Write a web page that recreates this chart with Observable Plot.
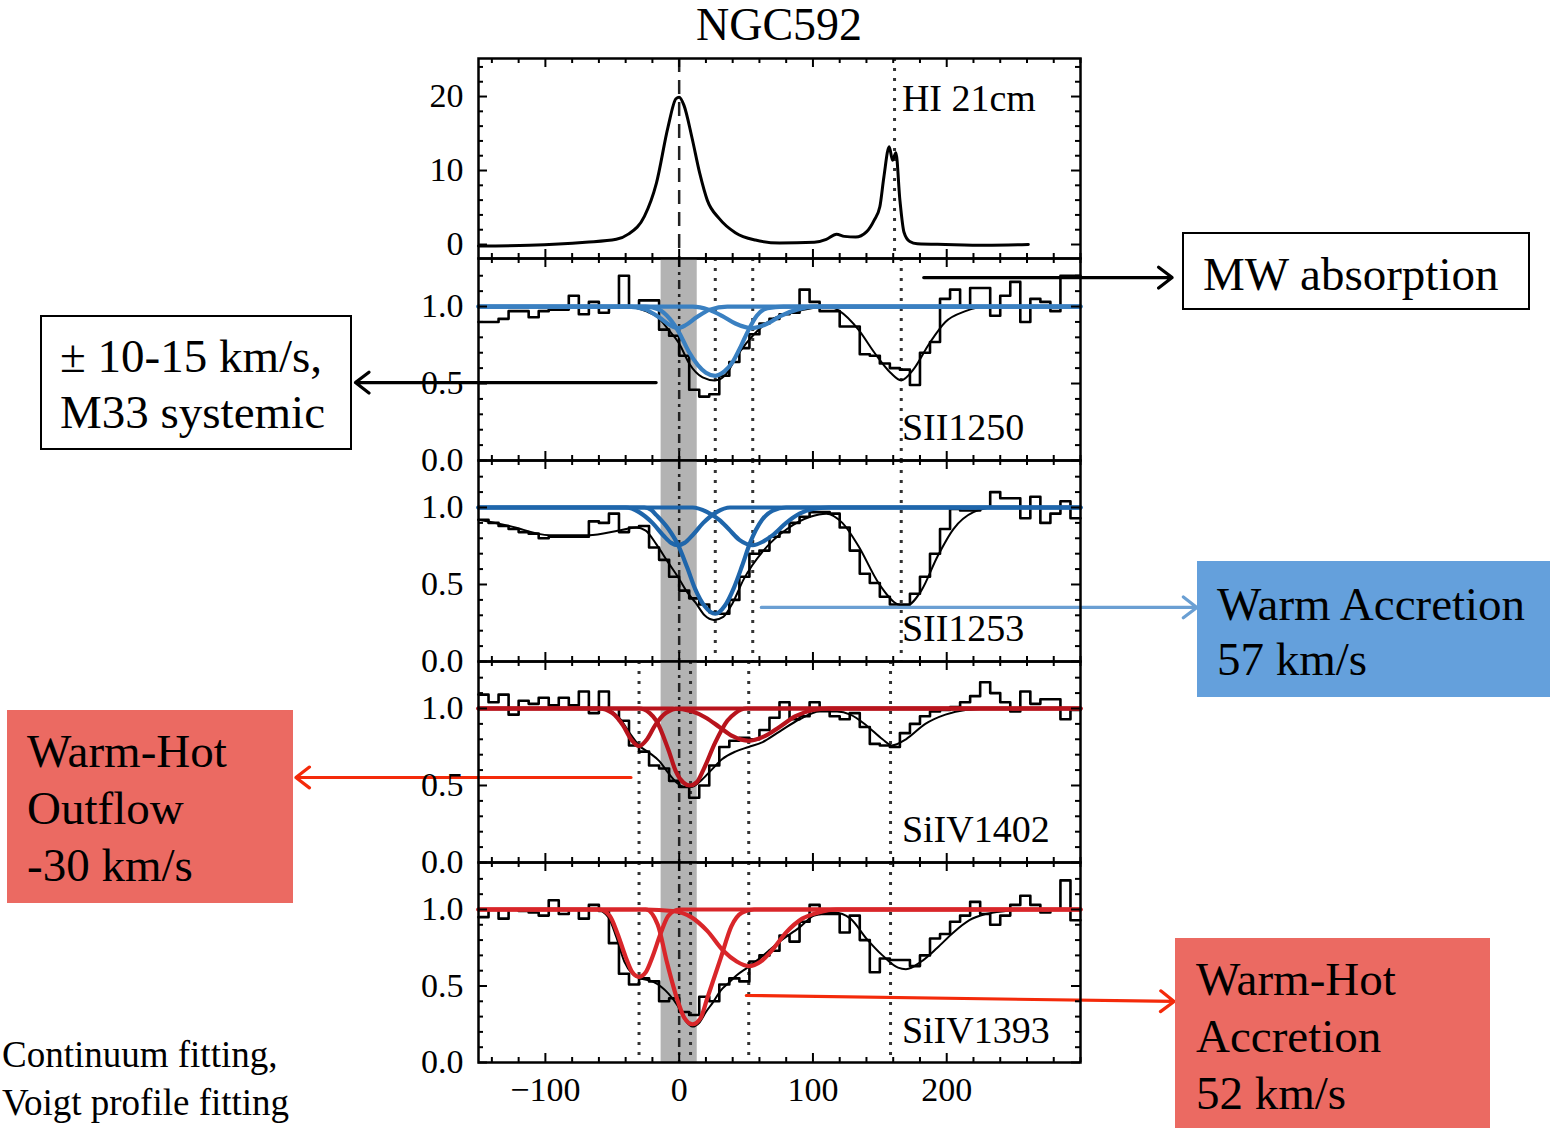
<!DOCTYPE html>
<html><head><meta charset="utf-8">
<script src="https://cdn.jsdelivr.net/npm/d3@7"></script>
<script src="https://cdn.jsdelivr.net/npm/@observablehq/plot@0.6"></script>
<style>
body{margin:0;background:#fff;}
#fig{position:relative;width:1550px;height:1128px;overflow:hidden;font-family:"Liberation Serif",serif;background:#fff;}
.box{position:absolute;box-sizing:border-box;}
.txt{position:absolute;white-space:nowrap;color:#000;font-family:"Liberation Serif",serif;}
</style></head><body><div id="fig"></div>
<script>
// ---------------- DATA ----------------
const titleText = "NGC592";
const panelLabels = ["HI 21cm", "SII1250", "SII1253", "SiIV1402", "SiIV1393"];
const xTickLabels = [-100, 0, 100, 200];

// HI 21cm emission profile
const hiVelocity = [-150,-112,-70,-47,-38,-26,-17,-8.3,-2.4,0,3.6,9.5,15.4,21,30,42,57,75,101,110,117.6,123.5,132,140,145.8,150,153,157,159.5,162,165,168,172.4,178,199,229,261];
const hiFlux     = [-0.2,-0.1,0.3,0.7,1.4,3.8,8.3,15.9,19.7,19.9,18.8,14.5,9.6,6.0,3.5,1.6,0.6,0.2,0.3,0.7,1.4,1.1,1.0,1.7,3.3,5.1,9.1,13.2,11.4,12.4,6.0,1.7,0.4,0.1,0,-0.1,0];

// binned normalized flux (bins of 7.5 km/s starting at -150)
const binStart = -150, binWidth = 7.5;
const sii1250Flux = [0.90,0.90,0.92,0.97,0.97,0.93,0.97,0.98,0.98,1.07, 0.95,1.03,0.96,1.00,1.20,1.00,1.04,1.04,0.85,0.81, 0.68,0.46,0.415,0.43,0.55,0.64,0.73,0.82,0.89,0.92, 0.95,0.96,1.11,1.03,0.97,0.97,0.87,0.87,0.69,0.68, 0.63,0.60,0.59,0.49,0.70,0.77,1.05,1.11,1.00,1.12, 1.12,0.94,1.07,1.16,0.90,1.05,1.03,0.97,1.20,1.20];
const sii1253Flux = [0.92,0.90,0.88,0.86,0.84,0.83,0.80,0.81,0.81,0.81, 0.81,0.91,0.90,0.96,0.84,0.87,0.88,0.74,0.66,0.55, 0.46,0.41,0.37,0.32,0.31,0.40,0.55,0.70,0.72,0.81, 0.84,0.90,0.94,0.97,0.97,0.96,0.87,0.72,0.57,0.51, 0.42,0.37,0.37,0.44,0.55,0.70,0.86,0.99,0.98,0.98, 1.00,1.10,1.06,1.06,0.93,1.07,0.90,0.96,1.04,0.93];
const siv1402Flux = [1.09,1.04,1.09,0.96,1.05,1.03,1.07,1.02,1.07,1.02, 1.11,0.97,1.11,1.00,0.92,0.76,0.72,0.63,0.61,0.53, 0.49,0.42,0.50,0.63,0.75,0.79,0.81,0.80,0.86,0.94, 1.04,0.93,0.95,1.04,0.99,0.95,0.93,0.97,0.88,0.77, 0.76,0.75,0.84,0.90,0.95,0.98,0.99,1.01,1.04,1.08, 1.17,1.10,1.04,0.98,1.11,1.03,1.06,1.06,0.93,0.99];
const siv1393Flux = [0.95,1.00,0.94,1.00,0.99,0.98,0.96,1.06,0.97,1.00, 0.94,1.03,0.99,0.78,0.58,0.51,0.55,0.53,0.40,0.42, 0.33,0.31,0.43,0.40,0.51,0.55,0.53,0.66,0.70,0.73, 0.83,0.79,0.92,1.03,0.97,0.97,0.85,0.96,0.80,0.59, 0.68,0.67,0.67,0.63,0.70,0.81,0.84,0.92,0.96,1.05, 0.97,0.90,0.96,1.03,1.09,1.03,0.98,1.00,1.19,0.93];

// total fits [velocity, flux]
const sii1250Fit = [[-150,1],[-40,1],[-25,0.97],[-16,0.93],[-8,0.85],[0,0.76],[7.5,0.63],[17.5,0.54],[26.7,0.52],[34,0.55],[44,0.69],[56,0.82],[68,0.91],[84,0.96],[100,0.99],[112,1],[120,0.97],[134,0.85],[146,0.70],[158,0.57],[166,0.52],[175,0.59],[187,0.76],[199,0.90],[214,0.97],[229,1],[300,1]];
const sii1253Fit = [[-150,0.92],[-127,0.88],[-97,0.82],[-67.5,0.82],[-45,0.85],[-32,0.87],[-25,0.85],[-17,0.76],[-8,0.64],[-1,0.55],[6,0.45],[12.4,0.38],[19,0.30],[26,0.27],[33,0.29],[40,0.38],[48,0.53],[63,0.72],[80.6,0.86],[98,0.94],[110,0.96],[122,0.90],[134,0.75],[149,0.51],[163.6,0.37],[169.5,0.36],[181,0.46],[193,0.68],[205,0.86],[220,0.97],[235,1],[300,1]];
const siv1402Fit = [[-150,1],[-62,1],[-53,0.99],[-44,0.93],[-37,0.84],[-30,0.76],[-22,0.71],[-15,0.66],[-8,0.58],[-2,0.52],[4,0.49],[9,0.49],[16,0.53],[24,0.60],[32,0.67],[42,0.72],[52,0.75],[62,0.78],[75,0.85],[90,0.93],[105,0.98],[118,0.98],[128,0.96],[140,0.89],[152,0.80],[159,0.76],[169.5,0.80],[184,0.90],[199,0.96],[214,0.99],[235,1],[300,1]];
const siv1393Fit = [[-150,1],[-62,1],[-53,0.95],[-47,0.82],[-41,0.66],[-35,0.58],[-29,0.55],[-20,0.53],[-8,0.45],[-1,0.37],[5,0.27],[10,0.235],[15,0.26],[20,0.33],[25,0.39],[31,0.47],[37,0.52],[43,0.57],[51,0.62],[63,0.70],[75,0.79],[89.5,0.88],[101,0.96],[116,0.98],[128,0.94],[140,0.81],[152,0.70],[163.6,0.62],[169.5,0.61],[181,0.66],[193,0.75],[205,0.85],[217,0.93],[229,0.97],[244,0.99],[260,1],[300,1]];

// fitted components [velocity, flux]
const sii1250Comp1 = [[-150,1],[-38,1],[-25,0.98],[-15,0.93],[-7,0.88],[-1,0.86],[5,0.88],[13,0.93],[23,0.98],[36,1],[300,1]];
const sii1250Comp2 = [[-150,1],[-25,1],[-15,0.98],[-7,0.92],[0,0.83],[7,0.71],[14,0.62],[20,0.57],[27,0.55],[34,0.58],[40,0.64],[46,0.74],[52,0.85],[58,0.94],[66,0.99],[78,1],[300,1]];
const sii1250Comp3 = [[-150,1],[10,1],[22,0.98],[32,0.94],[42,0.89],[54,0.86],[66,0.89],[76,0.94],[88,0.98],[100,1],[300,1]];
const sii1253Comp1 = [[-150,1],[-40,1],[-30,0.97],[-20,0.90],[-12,0.82],[-6,0.77],[-1,0.755],[4,0.77],[10,0.82],[18,0.90],[28,0.97],[38,1],[300,1]];
const sii1253Comp2 = [[-150,1],[-26,1],[-21,0.985],[-17,0.95],[-8,0.86],[-1,0.76],[6,0.61],[12,0.47],[19,0.36],[27,0.31],[34,0.36],[41,0.48],[47,0.62],[53,0.77],[62,0.92],[70,0.98],[80,1],[300,1]];
const sii1253Comp3 = [[-150,1],[10,1],[21,0.97],[30,0.92],[37,0.86],[45,0.79],[55,0.755],[63,0.78],[70,0.82],[80,0.90],[90,0.96],[100,0.99],[112,1],[300,1]];
const siv1402CompA = [[-150,1],[-60,1],[-50,0.97],[-42,0.89],[-36,0.80],[-30,0.755],[-24,0.80],[-18,0.89],[-10,0.97],[0,1],[300,1]];
const siv1402CompB = [[-150,1],[-30,1],[-22,0.97],[-17,0.92],[-8,0.73],[-2.4,0.59],[3,0.52],[8,0.50],[13,0.52],[18,0.60],[27,0.78],[36,0.92],[42,0.97],[50,1],[300,1]];
const siv1402CompC = [[-150,1],[-5,1],[10,0.98],[20,0.94],[30,0.88],[40,0.82],[52,0.79],[64,0.82],[75,0.88],[87,0.95],[100,0.99],[112,1],[300,1]];
const siv1393CompA = [[-150,1],[-60,1],[-52,0.96],[-46,0.84],[-40,0.69],[-35,0.59],[-30,0.56],[-25,0.59],[-20,0.69],[-14,0.84],[-8,0.96],[0,1],[300,1]];
const siv1393CompB = [[-150,1],[-25,1],[-16,0.90],[-9,0.65],[-1,0.40],[4,0.29],[10,0.25],[16,0.29],[21,0.42],[31,0.68],[39,0.89],[47,0.98],[56,1],[300,1]];
const siv1393CompC = [[-150,1],[-25,1],[-5,0.99],[9,0.95],[21,0.86],[33,0.73],[43,0.66],[52,0.63],[61,0.66],[70,0.74],[80,0.85],[92,0.94],[104,0.98],[118,1],[300,1]];

// component / reference velocities (km/s)
const hiDotted = [161];
const siiDotted = [27, 55, 166];
const sivDotted = [-30, 8.5, 52, 158];
const systemicBand = [-13.5, 13.5];

// ---------------- LAYOUT / STYLE ----------------
const fig = document.getElementById("fig");
const XDOM = [-150, 300];
const XMAJ = [-100, 0, 100, 200];
const XMIN = d3.range(-140, 301, 20).filter(v => !XMAJ.includes(v));
const ABS_YMAJ = [0, 0.5, 1.0];
const ABS_YMIN = [0.1,0.2,0.3,0.4,0.6,0.7,0.8,0.9,1.1,1.2];
const PLOT_W = 602;

const toHist = arr => {
  const pts = arr.map((f, i) => ({v: binStart + i * binWidth, f}));
  pts.push({v: binStart + arr.length * binWidth, f: arr[arr.length - 1]});
  return pts;
};
const toPts = arr => arr.map(([v, f]) => ({v, f}));
const minus = d => d < 0 ? "\u2212" + Math.abs(d) : String(d);

function tickMarks(yMaj, yMin, plotH) {
  const s = {stroke: "black", strokeWidth: 2};
  return [
    Plot.tickX(XMAJ, {x: d => d, insetTop: plotH - 9, ...s}),
    Plot.tickX(XMAJ, {x: d => d, insetBottom: plotH - 9, ...s}),
    Plot.tickX(XMIN, {x: d => d, insetTop: plotH - 5, ...s}),
    Plot.tickX(XMIN, {x: d => d, insetBottom: plotH - 5, ...s}),
    Plot.tickY(yMaj, {y: d => d, insetRight: PLOT_W - 9, ...s}),
    Plot.tickY(yMaj, {y: d => d, insetLeft: PLOT_W - 9, ...s}),
    Plot.tickY(yMin, {y: d => d, insetRight: PLOT_W - 5, ...s}),
    Plot.tickY(yMin, {y: d => d, insetLeft: PLOT_W - 5, ...s})
  ];
}

function makePanel({top, height, marginTop = 0, marginBottom = 0, yDomain, yMaj, yMin, yFormat, marks, label, labelY, xLabels = false}) {
  const plotH = height - marginTop - marginBottom;
  const svg = Plot.plot({
    width: 1550, height, marginLeft: 478, marginRight: 470, marginTop, marginBottom,
    x: {domain: XDOM, label: null, ...(xLabels ? {} : {axis: null})},
    y: {domain: yDomain, label: null},
    style: {background: "transparent", overflow: "visible", fontFamily: "Liberation Serif", fontSize: "34px", color: "black"},
    marks: [
      ...marks,
      Plot.text([label], {x: 166.5, y: labelY, text: d => d, textAnchor: "start", lineAnchor: "middle", fontSize: 38, fill: "black"}),
      ...tickMarks(yMaj, yMin, plotH),
      Plot.frame({stroke: "black", strokeWidth: 2.5}),
      Plot.axisY(yMaj, {anchor: "left", tickSize: 0, tickPadding: 15, tickFormat: yFormat, label: null, fill: "black"}),
      xLabels ? Plot.axisX(xTickLabels, {anchor: "bottom", tickSize: 0, tickPadding: 14, tickFormat: minus, label: null, fill: "black"}) : null
    ]
  });
  svg.style.position = "absolute";
  svg.style.left = "0px";
  svg.style.top = top + "px";
  fig.appendChild(svg);
}

const dashedSys = {stroke: "#222", strokeWidth: 2.5, strokeDasharray: "9,5,3,5"};
const dotted = {stroke: "#333", strokeWidth: 3, strokeDasharray: "3,7"};
const arrowStyle = {headLength: 8, headAngle: 75, strokeWidth: 3.2};

function absMarks(flux, fit, comps, color, dots, yTop, arrows) {
  return [
    Plot.rect([systemicBand], {x1: d => d[0], x2: d => d[1], y1: 0, y2: yTop, fill: "#b3b3b3"}),
    Plot.ruleX(dots, {x: d => d, ...dotted}),
    Plot.ruleX([0], {x: d => d, ...dashedSys}),
    Plot.line(toHist(flux), {x: "v", y: "f", curve: "step-after", stroke: "black", strokeWidth: 2.6}),
    Plot.line(toPts(fit), {x: "v", y: "f", curve: "monotone-x", stroke: "black", strokeWidth: 2}),
    ...comps.map(c => Plot.line(toPts(c), {x: "v", y: "f", curve: "monotone-x", stroke: color, strokeWidth: 4.2})),
    ...arrows.map(a => Plot.arrow([a], {x1: "x1", y1: "y1", x2: "x2", y2: "y2", stroke: a.color, ...arrowStyle}))
  ];
}

// Panel 1: HI 21cm
makePanel({
  top: 0, height: 258, marginTop: 58,
  yDomain: [-1.89, 25.14], yMaj: [0, 10, 20], yMin: [2,4,6,8,12,14,16,18,22,24], yFormat: d => String(d),
  label: panelLabels[0], labelY: 19.7,
  marks: [
    Plot.ruleX(hiDotted, {x: d => d, ...dotted}),
    Plot.ruleX([0], {x: d => d, stroke: "#222", strokeWidth: 2.5, strokeDasharray: "14,8"}),
    Plot.line(hiVelocity.map((v, i) => ({v, f: hiFlux[i]})), {x: "v", y: "f", curve: "monotone-x", stroke: "black", strokeWidth: 3})
  ]
});

// Panel 2: SII1250
makePanel({
  top: 258, height: 202, yDomain: [0, 1.312], yMaj: ABS_YMAJ, yMin: ABS_YMIN, yFormat: d3.format(".1f"),
  label: panelLabels[1], labelY: 0.21,
  marks: absMarks(sii1250Flux, sii1250Fit, [sii1250Comp1, sii1250Comp2, sii1250Comp3], "#3a80c1", siiDotted, 1.312, [
    {x1: 182.8, y1: 1.188, x2: 368.5, y2: 1.188, color: "black"},
    {x1: -17.2, y1: 0.506, x2: -242, y2: 0.506, color: "black"}
  ])
});

// Panel 3: SII1253
makePanel({
  top: 460, height: 201, yDomain: [0, 1.305], yMaj: ABS_YMAJ, yMin: ABS_YMIN, yFormat: d3.format(".1f"),
  label: panelLabels[2], labelY: 0.21,
  marks: absMarks(sii1253Flux, sii1253Fit, [sii1253Comp1, sii1253Comp2, sii1253Comp3], "#1f66ab", siiDotted, 1.305, [
    {x1: 61.4, y1: 0.351, x2: 387, y2: 0.351, color: "#6a9fd3"}
  ])
});

// Panel 4: SiIV1402
makePanel({
  top: 661, height: 201, yDomain: [0, 1.305], yMaj: ABS_YMAJ, yMin: ABS_YMIN, yFormat: d3.format(".1f"),
  label: panelLabels[3], labelY: 0.21,
  marks: absMarks(siv1402Flux, siv1402Fit, [siv1402CompA, siv1402CompB, siv1402CompC], "#b8141d", sivDotted, 1.305, [
    {x1: -36, y1: 0.552, x2: -286.5, y2: 0.552, color: "#f42a0a"}
  ])
});

// Panel 5: SiIV1393
makePanel({
  top: 862, height: 266, marginBottom: 66, yDomain: [0, 1.307], yMaj: ABS_YMAJ, yMin: ABS_YMIN, yFormat: d3.format(".1f"),
  label: panelLabels[4], labelY: 0.21, xLabels: true,
  marks: absMarks(siv1393Flux, siv1393Fit, [siv1393CompA, siv1393CompB, siv1393CompC], "#d9262a", sivDotted, 1.307, [
    {x1: 50.2, y1: 0.438, x2: 370, y2: 0.399, color: "#f42a0a"}
  ])
});

// ---------------- ANNOTATIONS (HTML) ----------------
function addBox(left, top, w, h, bg, border) {
  const d = document.createElement("div");
  d.className = "box";
  Object.assign(d.style, {left: left + "px", top: top + "px", width: w + "px", height: h + "px", background: bg, border: border || "none"});
  fig.appendChild(d);
}
function addText(left, top, lines, size, lh, align) {
  const d = document.createElement("div");
  d.className = "txt";
  Object.assign(d.style, {left: left + "px", top: top + "px", fontSize: size + "px", lineHeight: lh + "px", textAlign: align || "left"});
  d.innerHTML = lines.map(s => s.replace(/&/g, "&amp;").replace(/</g, "&lt;")).join("<br>");
  fig.appendChild(d);
}

// title
const t = document.createElement("div");
t.className = "txt";
Object.assign(t.style, {left: "479px", top: "-1px", width: "600px", textAlign: "center", fontSize: "46px", lineHeight: "52px"});
t.textContent = titleText;
fig.appendChild(t);

addBox(1182, 232, 348, 78, "#fff", "2px solid #000");
addText(1203, 246, ["MW absorption"], 47, 56);

addBox(40, 315, 312, 135, "#fff", "2px solid #000");
addText(60, 328, ["\u00b1 10-15 km/s,", "M33 systemic"], 47, 56);

addBox(1197, 561, 353, 136, "#64a0dc");
addText(1217, 577, ["Warm Accretion", "57 km/s"], 47, 55);

addBox(7, 710, 286, 193, "#eb6a62");
addText(27, 723, ["Warm-Hot", "Outflow", "-30 km/s"], 47, 57);

addBox(1175, 938, 315, 190, "#eb6a62");
addText(1196, 951, ["Warm-Hot", "Accretion", "52 km/s"], 47, 57);

addText(2, 1031, ["Continuum fitting,", "Voigt profile fitting"], 37, 48);
</script></body></html>
